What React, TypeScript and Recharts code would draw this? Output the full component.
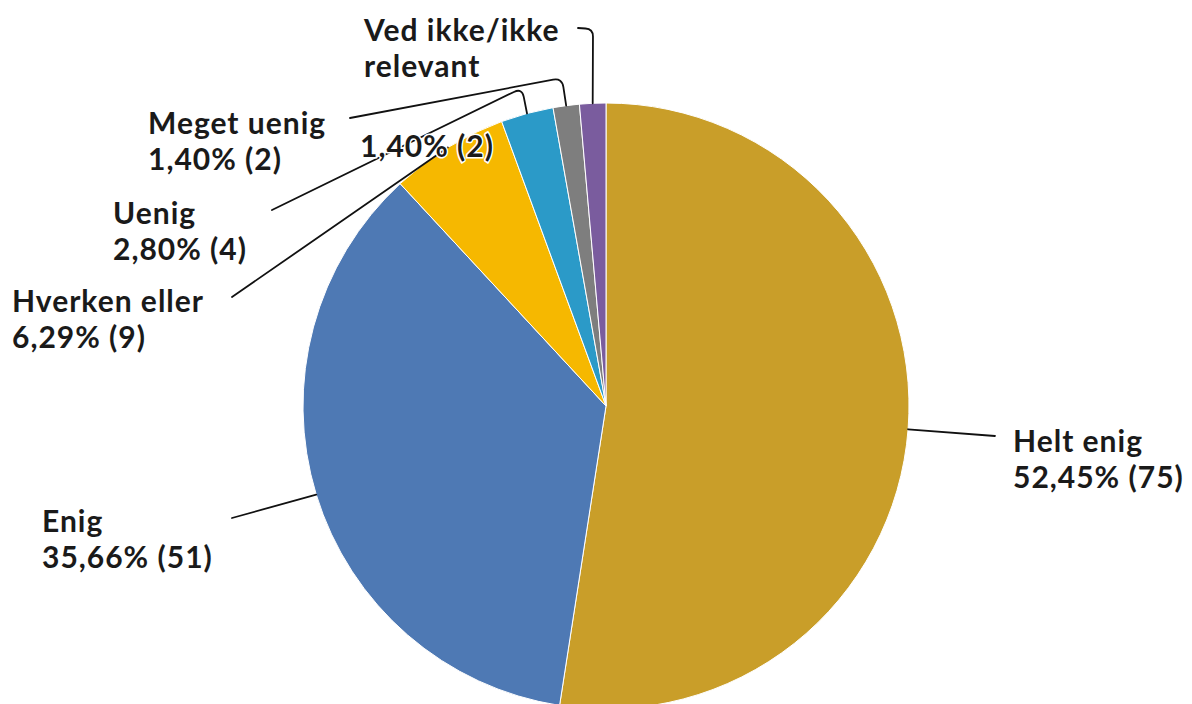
import React from 'react';
import { PieChart, Pie, Cell } from 'recharts';

const categories = ['Helt enig', 'Enig', 'Hverken eller', 'Uenig', 'Meget uenig', 'Ved ikke/ikke relevant'];
const counts = [75, 51, 9, 4, 2, 2];
const colors = ['#C99E29', '#4E79B4', '#F6B800', '#2B9AC8', '#7E7E7E', '#7A5C9E'];

const total = counts.reduce((a, b) => a + b, 0);
const data = categories.map((name, i) => ({ name, value: counts[i] }));

const CX = 606;
const CY = 406;
const R = 303;

// label layout, offsets relative to pie centre
type Layout = {
  tx: number; ty: number; lh: number;
  vx?: number; vy?: number;
  via: [number, number][];
};
const layout: Layout[] = [
  { tx: 407, ty: 46, lh: 36, via: [[389, 30]] },
  { tx: -564, ty: 126, lh: 36, via: [[-374, 112]] },
  { tx: -594, ty: -94, lh: 36, via: [[-374, -109]] },
  { tx: -493, ty: -182, lh: 36, via: [[-84, -318], [-334, -196]] },
  { tx: -458, ty: -272, lh: 36, via: [[-44, -328], [-256, -288]] },
  { tx: -242, ty: -365, lh: 36, vx: -246, vy: -249, via: [[-13, -377], [-28, -378]] },
];

const FONT = 'Lato, "Open Sans", "DejaVu Sans", sans-serif';

function splitName(name: string): string[] {
  if (name.length <= 14) return [name];
  const k = name.lastIndexOf(' ');
  return [name.slice(0, k), name.slice(k + 1)];
}

function roundedPath(pts: [number, number][], r: number): string {
  let d = `M${pts[0][0]},${pts[0][1]}`;
  for (let i = 1; i < pts.length - 1; i++) {
    const [px, py] = pts[i - 1];
    const [x, y] = pts[i];
    const [nx, ny] = pts[i + 1];
    const l1 = Math.hypot(x - px, y - py);
    const l2 = Math.hypot(nx - x, ny - y);
    const rr = Math.min(r, l1 / 2, l2 / 2);
    const ax = x + ((px - x) / l1) * rr;
    const ay = y + ((py - y) / l1) * rr;
    const bx = x + ((nx - x) / l2) * rr;
    const by = y + ((ny - y) / l2) * rr;
    d += ` L${ax},${ay} Q${x},${y} ${bx},${by}`;
  }
  const last = pts[pts.length - 1];
  d += ` L${last[0]},${last[1]}`;
  return d;
}

const RADIAN = Math.PI / 180;

function renderLabel(props: any) {
  const { cx, cy, midAngle, outerRadius, index } = props;
  const L = layout[index];
  const sx = cx + outerRadius * Math.cos(-midAngle * RADIAN);
  const sy = cy + outerRadius * Math.sin(-midAngle * RADIAN);
  const pts: [number, number][] = [[sx, sy], ...L.via.map(([x, y]) => [cx + x, cy + y] as [number, number])];
  const pct = ((counts[index] / total) * 100).toFixed(2).replace('.', ',');
  const valueText = `${pct}% (${counts[index]})`;
  const nameLines = splitName(categories[index]);
  const tx = cx + L.tx;
  const ty = cy + L.ty;
  const textStyle = { fontFamily: FONT, fontSize: 30, fontWeight: 700, fill: '#1a1a1a', letterSpacing: 1 } as const;
  const separate = L.vx !== undefined;
  const lines = separate ? nameLines : [...nameLines, valueText];
  return (
    <g key={`lab-${index}`}>
      <path d={roundedPath(pts, 9)} fill="none" stroke="#111" strokeWidth={1.8} strokeLinecap="round" />
      <text x={tx} y={ty} {...textStyle}>
        {lines.map((ln, j) => (
          <tspan key={j} x={tx} dy={j === 0 ? 0 : L.lh}>{ln}</tspan>
        ))}
      </text>
      {separate ? (
        <text
          x={cx + (L.vx as number)}
          y={cy + (L.vy as number)}
          {...textStyle}
          stroke="#fff"
          strokeWidth={3}
          paintOrder="stroke"
        >
          {valueText}
        </text>
      ) : null}
    </g>
  );
}

export default function App() {
  return (
    <div style={{ position: 'absolute', left: 0, top: 0, width: 1192, height: 704, background: '#fff' }}>
      <PieChart width={1192} height={704} margin={{ top: 0, right: 0, bottom: 0, left: 0 }}>
        <Pie
          data={data}
          dataKey="value"
          nameKey="name"
          cx={CX}
          cy={CY}
          outerRadius={R}
          startAngle={90}
          endAngle={-270}
          stroke="#fff"
          strokeWidth={1}
          label={renderLabel}
          labelLine={false}
          isAnimationActive={false}
        >
          {data.map((d, i) => (
            <Cell key={d.name} fill={colors[i]} />
          ))}
        </Pie>
      </PieChart>
    </div>
  );
}
